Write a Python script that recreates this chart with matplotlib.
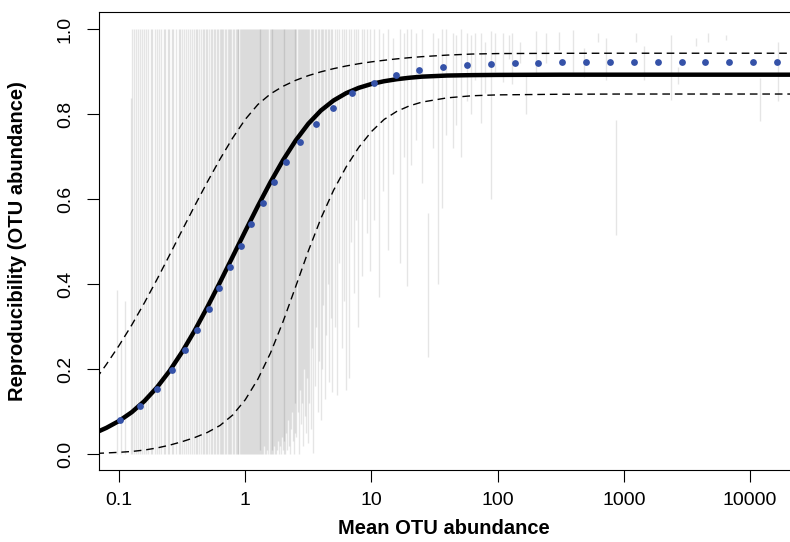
import matplotlib
matplotlib.use("Agg")
import matplotlib.pyplot as plt
from matplotlib.ticker import NullLocator

plt.rcParams['font.family'] = ['Liberation Sans', 'DejaVu Sans']

# ---------------- data ----------------
# grey range segments spanning the full 0..1 range (mean abundance)
full_x = [0.131, 0.135, 0.141, 0.147, 0.152, 0.159, 0.164, 0.171, 0.179, 0.184,
          0.192, 0.201, 0.207, 0.215, 0.226, 0.232, 0.243, 0.251, 0.263, 0.270,
          0.281, 0.296, 0.303, 0.318, 0.327, 0.342, 0.351, 0.368, 0.377, 0.391,
          0.404, 0.417, 0.434, 0.444, 0.461, 0.473, 0.489, 0.502, 0.516, 0.534,
          0.546, 0.564, 0.577, 0.596, 0.610, 0.629, 0.638, 0.655, 0.668, 0.689,
          0.703, 0.725, 0.739, 0.762, 0.777, 0.798, 0.815, 0.838, 0.855, 0.873,
          0.884, 0.902, 0.924, 0.938, 0.957, 0.982, 1.000, 1.018, 1.035, 1.058,
          1.077, 1.096, 1.118, 1.137, 1.162, 1.184, 1.203, 1.228, 1.247]

# dense segments reaching the top (upper end = 1.0), lower end varies
dense_x = [1.262, 1.281, 1.298, 1.318, 1.337, 1.359, 1.385, 1.406, 1.437, 1.466,
           1.494, 1.527, 1.561,
           1.592, 1.618, 1.642, 1.671, 1.698, 1.729, 1.757, 1.788, 1.816, 1.848,
           1.879, 1.917, 1.948, 1.979,
           2.011, 2.047, 2.083, 2.118, 2.157, 2.192, 2.228, 2.267, 2.308, 2.351,
           2.387, 2.426, 2.462, 2.497,
           2.548, 2.597, 2.652, 2.704, 2.758, 2.817, 2.871, 2.928, 2.986, 3.043,
           3.098, 3.152,
           3.22, 3.30, 3.38, 3.47, 3.56, 3.65, 3.74, 3.85, 3.95,
           4.05, 4.15, 4.27, 4.38, 4.50, 4.63, 4.78, 4.90,
           5.10, 5.36, 5.55, 5.80, 6.05, 6.24,
           6.59, 6.90, 7.26, 7.60, 7.80,
           8.36, 8.80, 9.30, 9.73]
dense_lo = [0, 0, 0, 0.01, 0, 0, 0, 0.02, 0, 0, 0.01, 0, 0,
            0, 0, 0.01, 0, 0.02, 0, 0, 0.01, 0.03, 0, 0.02, 0, 0.04, 0.01,
            0, 0.03, 0, 0.05, 0.01, 0.08, 0.02, 0, 0.06, 0.10, 0.03, 0, 0.12, 0.05,
            0.04, 0.10, 0, 0.15, 0.07, 0.12, 0.02, 0.20, 0.09, 0.05, 0.18, 0.026,
            0.12, 0.06, 0.25, 0.002, 0.16, 0.30, 0.10, 0.22, 0.08,
            0.20, 0.35, 0.13, 0.28, 0.40, 0.17, 0.32, 0.147,
            0.30, 0.14, 0.45, 0.25, 0.36, 0.15,
            0.18, 0.50, 0.378, 0.55, 0.30,
            0.42, 0.60, 0.52, 0.43]

# sparse segments
sparse_x = [0.096, 0.103, 0.112, 0.124, 0.127,
            10.5, 11.5, 12.4, 13.6, 14.8, 16.8, 18.0, 19.1, 20.5, 22.5, 25.4,
            28.1, 31.0, 34.0, 36.5, 39.0,
            44, 47, 51.1, 57, 61.4, 66, 73.7, 80, 88.5, 95, 109.6, 123, 130,
            150, 168, 200, 242, 307, 394, 485, 626, 725, 871,
            1254, 1452, 2382, 2707, 3758, 4680, 6505, 12100, 16750]
sparse_lo = [0, 0, 0, 0, 0,
             0.55, 0.37, 0.62, 0.48, 0.66, 0.449, 0.70, 0.395, 0.68, 0.74, 0.637,
             0.229, 0.72, 0.40, 0.58, 0.75,
             0.72, 0.775, 0.70, 0.83, 0.80, 0.88, 0.78, 0.85, 0.60, 0.90, 0.876,
             0.93, 0.87, 0.92, 0.80, 0.89, 0.92, 0.95, 0.90, 0.887, 0.97, 0.88,
             0.515,
             0.97, 0.88, 0.833, 0.87, 0.96, 0.97, 0.975, 0.784, 0.83]
sparse_hi = [0.385, 0.27, 0.36, 0.837, 1.0,
             1.0, 1.0, 0.99, 1.0, 0.98, 1.0, 0.99, 1.0, 1.0, 0.99, 1.0,
             0.567, 0.99, 0.98, 1.0, 1.0,
             0.99, 0.985, 1.0, 0.99, 0.985, 0.99, 0.99, 0.97, 0.995, 0.99, 0.99,
             0.985, 0.99, 0.97, 0.89, 0.995, 0.99, 0.993, 0.998, 0.955, 0.99,
             0.98, 0.786,
             0.99, 0.96, 0.986, 0.91, 0.98, 0.99, 0.985, 0.885, 0.97]

# blue points
dot_x = [0.102, 0.1455, 0.1985, 0.261, 0.331, 0.416, 0.514, 0.625, 0.759, 0.923,
         1.118, 1.372, 1.696, 2.113, 2.715, 3.605, 4.946, 6.963, 10.41, 15.71,
         24.02, 37.12, 57.05, 88.5, 136.5, 210.1, 326, 502.6, 779.8, 1209,
         1866, 2873, 4431, 6875, 10600, 16440]
dot_y = [0.079, 0.114, 0.153, 0.197, 0.244, 0.291, 0.341, 0.391, 0.441, 0.490,
         0.541, 0.591, 0.640, 0.687, 0.733, 0.776, 0.815, 0.849, 0.874, 0.891,
         0.903, 0.910, 0.915, 0.918, 0.919, 0.921, 0.922, 0.922, 0.922, 0.922,
         0.922, 0.922, 0.922, 0.922, 0.922, 0.922]

# fitted curve and its upper / lower bounds, read at common abundances
curve_x = [0.0661, 0.0794, 0.1, 0.1259, 0.1585, 0.1995, 0.2512, 0.3162, 0.3981,
           0.5012, 0.631, 0.7943, 1.0, 1.259, 1.585, 1.995, 2.512, 3.162, 3.981,
           5.012, 6.31, 7.943, 10.0, 12.59, 15.85, 19.95, 25.12, 39.81, 63.1,
           100, 316.2, 1000, 25120]
fit_y = [0.051, 0.0616, 0.0778, 0.0983, 0.1243, 0.1566, 0.1953, 0.2403, 0.2908,
         0.3458, 0.4041, 0.4641, 0.5243, 0.5833, 0.6396, 0.6916, 0.7378, 0.7771,
         0.8083, 0.8318, 0.8491, 0.8616, 0.8706, 0.8771, 0.8818, 0.8853, 0.8879,
         0.8905, 0.8915, 0.892, 0.8925, 0.8925, 0.8925]
upper_y = [0.178, 0.211, 0.2553, 0.3033, 0.3553, 0.4105, 0.468, 0.5265, 0.5843,
           0.6403, 0.6938, 0.7435, 0.7873, 0.8223, 0.8473, 0.8653, 0.8793,
           0.8903, 0.8993, 0.9067, 0.913, 0.9183, 0.9227, 0.9264, 0.9297,
           0.9325, 0.9349, 0.9386, 0.9411, 0.9422, 0.9428, 0.943, 0.943]
lower_y = [0.0015, 0.0025, 0.004, 0.006, 0.0093, 0.0142, 0.0208, 0.0291, 0.0388,
           0.0508, 0.0671, 0.0916, 0.1276, 0.1761, 0.2376, 0.3116, 0.3941,
           0.4776, 0.5546, 0.6206, 0.6756, 0.7216, 0.7586, 0.7871, 0.806, 0.819,
           0.828, 0.838, 0.843, 0.845, 0.8465, 0.847, 0.847]

xticks = [0.1, 1, 10, 100, 1000, 10000]
xtick_labels = ["0.1", "1", "10", "100", "1000", "10000"]
yticks = [0.0, 0.2, 0.4, 0.6, 0.8, 1.0]
ytick_labels = ["0.0", "0.2", "0.4", "0.6", "0.8", "1.0"]

# ---------------- figure ----------------
W, H = 790, 542
fig = plt.figure(figsize=(W / 100, H / 100), dpi=100)
ax = fig.add_axes([99 / W, 72 / H, 1.002 - 99 / W, 458 / H])
ax.set_xscale('log')
ax.set_xlim(10 ** -1.159, 10 ** 4.33)
ax.set_ylim(-0.0376, 1.04)

seg_kw = dict(colors='black', alpha=0.10, linewidths=1.0)
ax.vlines(full_x, [0.0] * len(full_x), [1.0] * len(full_x), **seg_kw)
ax.vlines(dense_x, dense_lo, [1.0] * len(dense_x), **seg_kw)
ax.vlines(sparse_x, sparse_lo, sparse_hi, **seg_kw)

ax.plot(curve_x, upper_y, color='black', lw=1.0, dashes=(5.5, 3.5))
ax.plot(curve_x, lower_y, color='black', lw=1.0, dashes=(5.5, 3.5))
ax.plot(curve_x, fit_y, color='black', lw=3.2, solid_capstyle='butt',
        solid_joinstyle='round')
ax.scatter(dot_x, dot_y, s=24, color='#3552A8', linewidths=0, zorder=5)

ax.set_xticks(xticks)
ax.set_xticklabels(xtick_labels)
ax.xaxis.set_minor_locator(NullLocator())
ax.set_yticks(yticks)
ax.set_yticklabels(ytick_labels, rotation=90, va='center')
ax.tick_params(axis='both', length=8.6, width=0.8, direction='out',
               labelsize=14, colors='black')
ax.tick_params(axis='x', pad=7)
ax.tick_params(axis='y', pad=9.5)
for s in ['left', 'top', 'bottom']:
    ax.spines[s].set_linewidth(0.8)
ax.spines['right'].set_visible(False)

fig.text(444 / W, 1 - 528 / H, 'Mean OTU abundance', ha='center', va='center',
         fontsize=14.5, fontweight='bold')
fig.text(18 / W, 1 - 241 / H, 'Reproducibility (OTU abundance)', ha='center',
         va='center', rotation=90, fontsize=14.5, fontweight='bold')

fig.savefig('out.png', dpi=100)
